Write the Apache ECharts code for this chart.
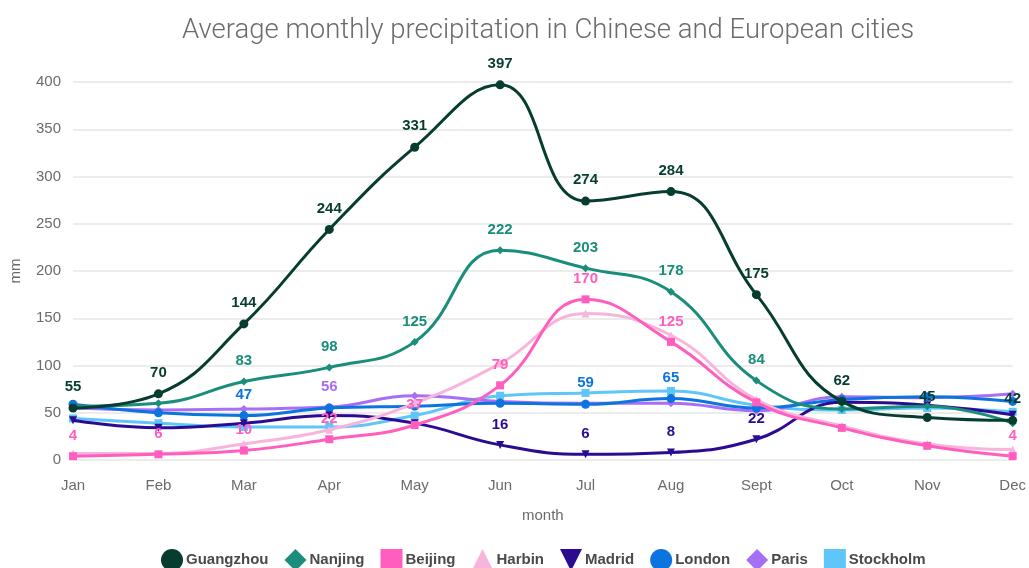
<!DOCTYPE html>
<html>
<head>
<meta charset="utf-8">
<script src="https://cdn.jsdelivr.net/npm/echarts@6/dist/echarts.min.js"></script>
<style>
html,body{margin:0;padding:0;background:#fff;}
#chart{width:1029px;height:568px;}
</style>
</head>
<body>
<div id="chart"></div>
<script>
const months = ['Jan','Feb','Mar','Apr','May','Jun','Jul','Aug','Sept','Oct','Nov','Dec'];
const cities = ['Guangzhou','Nanjing','Beijing','Harbin','Madrid','London','Paris','Stockholm'];
const guangzhou = [55,70,144,244,331,397,274,284,175,62,45,42];
const nanjing   = [57,60,83,98,125,222,203,178,84,54,57,39];
const beijing   = [4,6,10,22,37,79,170,125,61,34,15,4];
const harbin    = [7,7,17,32,60,102,155,132,64,36,17,11];
const madrid    = [42,34,39,47,39,16,6,8,22,61,58,48];
const london    = [59,50,47,55,57,60,59,65,55,64,67,62];
const paris     = [55,53,54,56,68,62,60,60,52,67,66,70];
const stockholm = [44,39,35,35,47,68,71,73,58,53,55,51];
const yTicks = [0,50,100,150,200,250,300,350,400];

// months (indices) whose value label is visible in the reference
const labelMonths = {
  Guangzhou: [0,1,2,3,4,5,6,7,8,9,10,11],
  Nanjing: [2,3,4,5,6,7,8],
  Beijing: [0,1,2,3,4,5,6,7,11],
  Harbin: [],
  Madrid: [5,6,7,8],
  London: [2,6,7],
  Paris: [3],
  Stockholm: []
};

const values = [guangzhou,nanjing,beijing,harbin,madrid,london,paris,stockholm];
const colors = ['#073d31','#1a8d7b','#ff5ebf','#f8b5dc','#2c0b93','#0b74de','#a76ef6','#5fc6fa'];
const invTri = 'path://M0,0 L10,0 L5,10 Z';
const symbols = ['circle','diamond','rect','triangle',invTri,'circle','diamond','rect'];

const series = cities.map((name, i) => ({
  name,
  type: 'line',
  smooth: 0.45,
  symbol: symbols[i],
  symbolSize: symbols[i] === 'circle' ? 9 : 8,
  showSymbol: true,
  lineStyle: {width: 3, color: colors[i]},
  itemStyle: {color: colors[i]},
  z: 10 - i,
  data: values[i].map((v, j) => ({
    value: v,
    label: {show: labelMonths[name].includes(j)}
  })),
  label: {
    position: 'top',
    distance: 9,
    color: colors[i],
    fontFamily: 'Liberation Sans, Arial, sans-serif',
    fontWeight: 'bold',
    fontSize: 15
  }
}));

const chart = echarts.init(document.getElementById('chart'), null, {renderer: 'canvas'});
chart.setOption({
  animation: false,
  backgroundColor: '#ffffff',
  color: colors,
  title: {
    text: 'Average monthly precipitation in Chinese and European cities',
    left: 177,
    top: 12,
    textStyle: {
      fontFamily: 'Roboto, Liberation Sans, sans-serif',
      fontWeight: 300,
      fontSize: 27.5,
      color: '#6b6b6b'
    }
  },
  grid: {left: 72, right: 13, top: 82, bottom: 108},
  legend: {
    bottom: -8,
    left: 156,
    itemWidth: 22,
    itemHeight: 22,
    itemGap: 16,
    textStyle: {
      fontFamily: 'Liberation Sans, Arial, sans-serif',
      fontWeight: 'bold',
      fontSize: 15,
      color: '#4a4a4a',
      padding: [0,0,0,-2]
    },
    data: cities.map((c, i) => ({name: c, icon: symbols[i]}))
  },
  xAxis: {
    type: 'category',
    data: months,
    boundaryGap: false,
    name: 'month',
    nameLocation: 'middle',
    nameGap: 48,
    nameTextStyle: {color: '#6b6b6b', fontSize: 15, fontFamily: 'Liberation Sans, Arial, sans-serif'},
    axisLine: {show: false},
    axisTick: {show: false},
    axisLabel: {color: '#6b6b6b', fontSize: 15, margin: 18, fontFamily: 'Liberation Sans, Arial, sans-serif'}
  },
  yAxis: {
    type: 'value',
    min: yTicks[0],
    max: yTicks[yTicks.length - 1],
    interval: 50,
    name: 'mm',
    nameLocation: 'middle',
    nameGap: 50,
    nameTextStyle: {color: '#6b6b6b', fontSize: 15, fontFamily: 'Liberation Sans, Arial, sans-serif'},
    axisLine: {show: false},
    axisTick: {show: false},
    axisLabel: {color: '#6b6b6b', fontSize: 15, margin: 12, fontFamily: 'Liberation Sans, Arial, sans-serif'},
    splitLine: {lineStyle: {color: '#e6e6e6', width: 1.5}}
  },
  series
});
</script>
</body>
</html>
